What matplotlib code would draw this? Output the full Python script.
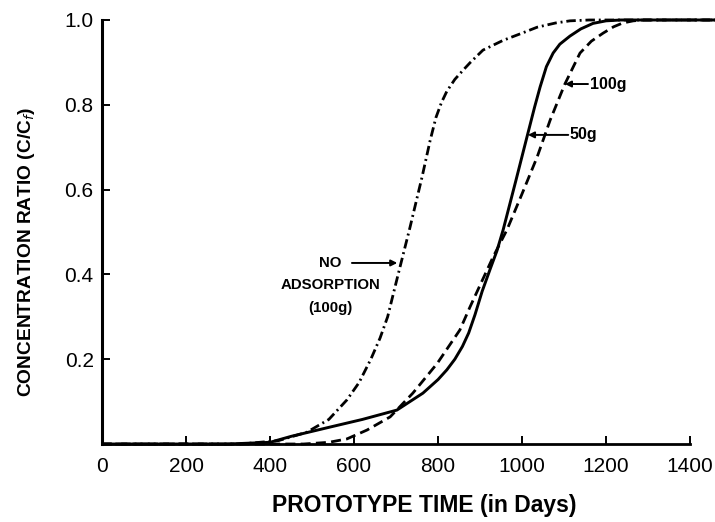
import matplotlib
matplotlib.use("Agg")
import matplotlib.pyplot as plt

plt.rcParams['font.family'] = ['Liberation Sans', 'DejaVu Sans']

# 50 g, adsorption (solid)
t_50 = [0, 300, 400, 450, 543, 620, 702, 764, 800, 821, 840, 858, 873, 888, 905, 925, 940, 955, 985,
        1014, 1030, 1043, 1058, 1074, 1090, 1114, 1140, 1169, 1200, 1235, 1460]
c_50 = [0.0, 0.0, 0.004, 0.018, 0.04, 0.058, 0.08, 0.12, 0.152, 0.175, 0.2, 0.23, 0.262, 0.305,
        0.36, 0.415, 0.455, 0.505, 0.62, 0.733, 0.795, 0.842, 0.89, 0.922, 0.943, 0.962, 0.979,
        0.992, 0.998, 1.0, 1.0]

# 100 g, adsorption (dashed)
t_100 = [0, 480, 540, 583, 631, 686, 740, 798, 852, 876, 931, 964, 1000, 1036, 1067, 1102,
         1138, 1165, 1193, 1218, 1240, 1265, 1290, 1460]
c_100 = [0.0, 0.0, 0.004, 0.012, 0.033, 0.064, 0.12, 0.19, 0.269, 0.323, 0.441, 0.505, 0.59,
         0.677, 0.764, 0.849, 0.922, 0.95, 0.969, 0.984, 0.993, 0.998, 1.0, 1.0]

# no adsorption, 100 g (dash-dot)
t_no = [0, 330, 420, 488, 540, 583, 612, 640, 662, 680, 705, 733, 762, 781, 795, 808, 821, 840,
        860, 876, 907, 955, 1000, 1036, 1080, 1114, 1160, 1460]
c_no = [0.0, 0.0, 0.008, 0.028, 0.058, 0.104, 0.145, 0.2, 0.25, 0.3, 0.4, 0.51, 0.63, 0.715,
        0.77, 0.805, 0.832, 0.86, 0.882, 0.899, 0.929, 0.952, 0.969, 0.983, 0.993, 0.998, 1.0, 1.0]

x_ticks = [0, 200, 400, 600, 800, 1000, 1200, 1400]
y_ticks = [0.2, 0.4, 0.6, 0.8, 1.0]

fig = plt.figure(figsize=(7.15, 5.22), dpi=100)
ax = fig.add_axes([0.1427, 0.1494, 0.8224, 0.8123])

ax.plot(t_50, c_50, color='black', lw=2.1, clip_on=False, solid_capstyle='butt')
ax.plot(t_100, c_100, color='black', lw=2.0, dashes=(3.6, 1.9), clip_on=False)
ax.plot(t_no, c_no, color='black', lw=2.0, dashes=(3.4, 1.4, 0.7, 1.4), clip_on=False)

ax.set_xlim(0, 1400)
ax.set_ylim(0, 1.0)
ax.spines['top'].set_visible(False)
ax.spines['right'].set_visible(False)
ax.spines['left'].set_linewidth(2.2)
ax.spines['bottom'].set_linewidth(2.0)

ax.set_xticks(x_ticks)
ax.set_xticklabels([str(v) for v in x_ticks])
ax.set_yticks(y_ticks)
ax.set_yticklabels(['%.1f' % v for v in y_ticks])
ax.tick_params(direction='in', length=6, width=1.4, labelsize=15)
ax.tick_params(axis='x', pad=9)
ax.tick_params(axis='y', pad=6)

ax.set_xlabel('PROTOTYPE TIME (in Days)', fontsize=16.5, fontweight='bold')
ax.xaxis.set_label_coords(0.548, -0.118)
ax.set_ylabel('CONCENTRATION RATIO (C/C$_f$)', fontsize=13.8, fontweight='bold')
ax.yaxis.set_label_coords(-0.111, 0.453)

# curve labels
arrow = dict(arrowstyle='-|>', color='black', lw=1.4, mutation_scale=9, shrinkA=0, shrinkB=0)
ax.annotate('', xy=(1102, 0.849), xytext=(1157, 0.849), arrowprops=arrow)
ax.text(1162, 0.849, '100g', fontsize=11.5, fontweight='bold', va='center', ha='left')
ax.annotate('', xy=(1014, 0.729), xytext=(1110, 0.729), arrowprops=arrow)
ax.text(1112, 0.729, '50g', fontsize=11.5, fontweight='bold', va='center', ha='left')

ax.text(543, 0.427, 'NO', fontsize=10.8, fontweight='bold', ha='center', va='center')
ax.text(543, 0.375, 'ADSORPTION', fontsize=10.8, fontweight='bold', ha='center', va='center')
ax.text(543, 0.321, '(100g)', fontsize=10.8, fontweight='bold', ha='center', va='center')
ax.annotate('', xy=(703, 0.427), xytext=(595, 0.427), arrowprops=arrow)

plt.savefig('out.png', dpi=100)
